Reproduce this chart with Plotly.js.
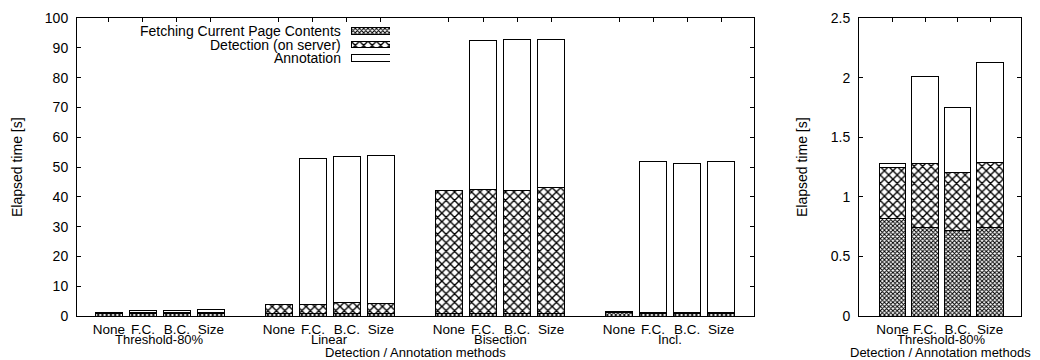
<!DOCTYPE html>
<html>
<head>
<meta charset="utf-8">
<script src="https://cdn.plot.ly/plotly-3.0.1.min.js"></script>
<style>html,body{margin:0;padding:0;background:#fff}#chart{width:1040px;height:360px}</style>
</head>
<body>
<div id="chart"></div>
<script>
// ---- data ----
var groups = ['Threshold-80%', 'Linear', 'Bisection', 'Incl.'];
var methods = ['None', 'F.C.', 'B.C.', 'Size'];
var seriesNames = ['Fetching Current Page Contents', 'Detection (on server)', 'Annotation'];
// per group, per method [None, F.C., B.C., Size]
var fetchThreshold = [0.82, 0.74, 0.72, 0.74];
var detectThreshold = [0.43, 0.54, 0.48, 0.55];
var annotThreshold = [0.03, 0.73, 0.55, 0.84];
var fetchLinear = [0.8, 0.8, 0.8, 0.8];
var detectLinear = [3.2, 3.2, 3.6, 3.5];
var annotLinear = [0.0, 49.0, 49.2, 49.6];
var fetchBisection = [0.8, 0.9, 0.9, 0.9];
var detectBisection = [41.2, 41.4, 41.1, 42.1];
var annotBisection = [0.1, 50.0, 50.7, 49.7];
var fetchIncl = [1.3, 1.0, 1.0, 1.0];
var detectIncl = [0.2, 0.2, 0.2, 0.2];
var annotIncl = [0.0, 50.8, 50.0, 50.8];
var yTicksLeft = [0, 10, 20, 30, 40, 50, 60, 70, 80, 90, 100];
var yTicksRight = [0, 0.5, 1, 1.5, 2, 2.5];
var yTickTextRight = ['0', '0.5', '1', '1.5', '2', '2.5'];
var legendKey = [1, 1, 1]; // full-length key swatches

// ---- build ----
var fetchAll = [fetchThreshold, fetchLinear, fetchBisection, fetchIncl];
var detectAll = [detectThreshold, detectLinear, detectBisection, detectIncl];
var annotAll = [annotThreshold, annotLinear, annotBisection, annotIncl];
var slot = 5; // 4 bars + gap per group
var xs = [], labels = [], f = [], d = [], a = [];
groups.forEach(function (g, gi) {
  methods.forEach(function (m, mi) {
    xs.push(gi * slot + mi); labels.push(m);
    f.push(fetchAll[gi][mi]); d.push(detectAll[gi][mi]); a.push(annotAll[gi][mi]);
  });
});
var xsR = methods.map(function (m, i) { return i; });

var FONT = 'Liberation Sans, Arial, sans-serif';
var line = {color: '#000', width: 1};
var patFetch = {shape: 'x', size: 3, solidity: 0.55, fgcolor: '#000', bgcolor: '#fff', fillmode: 'replace'};
var patDetect = {shape: 'x', size: 6, solidity: 0.4, fgcolor: '#000', bgcolor: '#fff', fillmode: 'replace'};
var pats = [patFetch, patDetect, null];

function mkBar(x, y, pat, name, xa, ya, extra) {
  var m = {line: line, color: '#fff'};
  if (pat) m.pattern = pat;
  return Object.assign({type: 'bar', x: x, y: y, name: name, xaxis: xa, yaxis: ya, width: 0.82,
    marker: m, showlegend: false, hoverinfo: 'y'}, extra || {});
}

var traces = [
  mkBar(xs, f, patFetch, seriesNames[0], 'x', 'y'),
  mkBar(xs, d, patDetect, seriesNames[1], 'x', 'y'),
  mkBar(xs, a, null, seriesNames[2], 'x', 'y'),
  mkBar(xsR, fetchThreshold, patFetch, seriesNames[0], 'x2', 'y2'),
  mkBar(xsR, detectThreshold, patDetect, seriesNames[1], 'x2', 'y2'),
  mkBar(xsR, annotThreshold, null, seriesNames[2], 'x2', 'y2')
];
// legend key swatches (one horizontal bar per series)
seriesNames.forEach(function (s, i) {
  traces.push(mkBar([legendKey[i]], [i], pats[i], s, 'x3', 'y3',
    {orientation: 'h', width: 0.48, hoverinfo: 'name'}));
});

var axisCommon = {showline: true, linecolor: '#000', linewidth: 1, ticks: 'inside', ticklen: 4,
  tickcolor: '#000', mirror: 'ticks', showgrid: false, zeroline: false,
  tickfont: {family: FONT, size: 14, color: '#000'}, fixedrange: true};
function ax(extra) { return Object.assign({}, axisCommon, extra); }

var pxL = 77, pxR = 754, pxL2 = 859, pxR2 = 1021, W = 1040, TOP = 18, BOT = 316, PH = BOT - TOP;
function py(p) { return (BOT - p) / PH; }
var annFont = {family: FONT, size: 13, color: '#000'};
var annotations = [];
groups.forEach(function (g, gi) {
  annotations.push({xref: 'x', yref: 'paper', x: gi * slot + 1.5, y: py(340), yanchor: 'middle',
    xanchor: 'center', text: g, showarrow: false, font: annFont});
});
annotations.push({xref: 'x2', yref: 'paper', x: 1.5, y: py(340), yanchor: 'middle', xanchor: 'center',
  text: groups[0], showarrow: false, font: annFont});
annotations.push({xref: 'paper', yref: 'paper', x: (pxL + pxR) / 2 / W, y: py(352.5), yanchor: 'middle',
  xanchor: 'center', text: 'Detection / Annotation methods', showarrow: false, font: annFont});
annotations.push({xref: 'paper', yref: 'paper', x: (pxL2 + pxR2) / 2 / W, y: py(352.5), yanchor: 'middle',
  xanchor: 'center', text: 'Detection / Annotation methods', showarrow: false, font: annFont});
annotations.push({xref: 'paper', yref: 'paper', x: 17 / W, y: 0.5, textangle: -90, xanchor: 'center',
  yanchor: 'middle', text: 'Elapsed time [s]', showarrow: false, font: {family: FONT, size: 14, color: '#000'}});
annotations.push({xref: 'paper', yref: 'paper', x: 802 / W, y: 0.5, textangle: -90, xanchor: 'center',
  yanchor: 'middle', text: 'Elapsed time [s]', showarrow: false, font: {family: FONT, size: 14, color: '#000'}});
var legY = [31, 44.5, 58];
seriesNames.forEach(function (s, i) {
  annotations.push({xref: 'paper', yref: 'paper', x: 343 / W, y: py(legY[i]), xanchor: 'right',
    yanchor: 'middle', text: s, showarrow: false, font: {family: FONT, size: 14, color: '#000'}});
});

var hidden = {visible: false, fixedrange: true, showgrid: false, zeroline: false};

var layout = {
  width: 1040, height: 360,
  margin: {l: 0, r: 0, t: TOP, b: 360 - BOT, pad: 0},
  paper_bgcolor: '#fff', plot_bgcolor: 'rgba(0,0,0,0)',
  barmode: 'stack', bargap: 0,
  font: {family: FONT, size: 14, color: '#000'},
  showlegend: false,
  xaxis: ax({domain: [pxL / W, pxR / W], range: [-0.94, 18.97], tickvals: xs, ticktext: labels,
    layer: 'below traces', anchor: 'y', ticklabelstandoff: 1, tickfont: {family: FONT, size: 13.5, color: '#000'}}),
  yaxis: ax({domain: [0, 1], range: [0, 100], tickvals: yTicksLeft, anchor: 'x', ticklabelstandoff: 5}),
  xaxis2: ax({domain: [pxL2 / W, pxR2 / W], range: [-1.03, 3.95], tickvals: xsR, ticktext: methods,
    layer: 'below traces', anchor: 'y2', ticklabelstandoff: 1, tickfont: {family: FONT, size: 13.5, color: '#000'}}),
  yaxis2: ax({domain: [0, 1], range: [0, 2.5], tickvals: yTicksRight, ticktext: yTickTextRight,
    anchor: 'x2', ticklabelstandoff: 5}),
  xaxis3: Object.assign({}, hidden, {domain: [351 / W, 390 / W], range: [0, 1], anchor: 'y3'}),
  yaxis3: Object.assign({}, hidden, {domain: [py(64.75), py(24.25)], range: [2.5, -0.5], anchor: 'x3'}),
  annotations: annotations
};

Plotly.newPlot('chart', traces, layout, {displayModeBar: false, staticPlot: true});
</script>
</body>
</html>
